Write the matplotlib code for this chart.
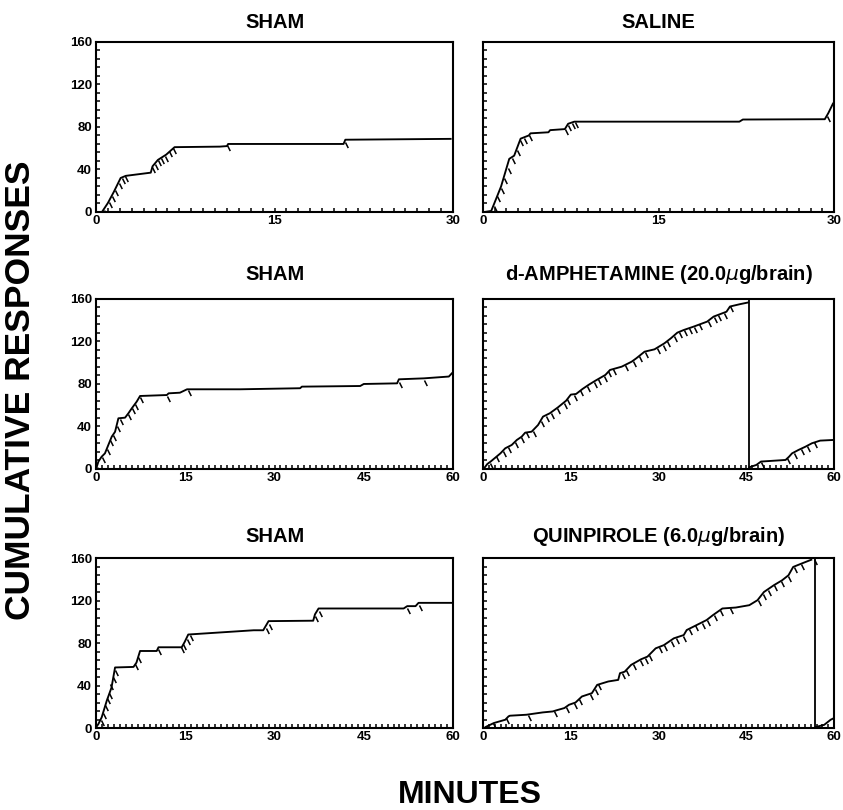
import numpy as np
import matplotlib
matplotlib.use("Agg")
import matplotlib.pyplot as plt
from matplotlib.path import Path
from matplotlib.ticker import MultipleLocator

plt.rcParams['font.family'] = ['Liberation Sans', 'DejaVu Sans']
plt.rcParams['mathtext.fontset'] = 'dejavusans'

# ---- cumulative records (minutes, cumulative responses) ----
# top row, 30 min sessions
sham1_t = [0.0, 0.5, 1.0, 1.5, 2.07, 2.5, 4.6, 4.75, 5.2, 5.9, 6.6, 10.4, 11.0, 11.1, 20.8, 20.95, 29.8]
sham1_v = [0, 0, 8.5, 19, 32, 34, 37, 43, 49, 54, 61, 61.5, 62, 64, 64, 68, 68.8]
sham1_pip_t = [0.65, 1.07, 1.35, 1.63, 1.91, 2.19, 2.47, 4.74, 4.94, 5.22, 5.5, 5.78, 6.15, 6.49, 11.0, 20.9]
sham1_pip_v = [2, 9, 15, 21, 27, 32, 34, 42, 45, 49, 51, 53, 57, 60, 63, 66]

saline_t = [0.0, 0.14, 0.7, 0.98, 1.54, 2.24, 2.66, 3.21, 3.91, 4.05, 5.59, 5.73, 6.99, 7.27, 7.8, 21.9, 22.2, 29.2, 29.5, 29.9]
saline_v = [0, 0, 1, 8.6, 24, 50, 53, 69, 72, 74, 75, 77, 78, 83, 85, 85, 87, 87.3, 93, 102]
saline_pip_t = [0.9, 1.2, 1.5, 1.8, 2.1, 2.5, 2.9, 3.2, 3.5, 3.9, 7.0, 7.3, 7.6, 7.9, 29.4]
saline_pip_v = [6, 15, 23, 32, 41, 51, 58, 68, 70, 72, 78, 82, 84, 85, 90]

# middle row, 60 min sessions
sham2_t = [0.0, 0.0, 0.1, 0.4, 0.95, 1.5, 2.07, 2.64, 3.2, 3.76, 4.88, 5.44, 6.0, 6.84, 7.4, 11.9, 12.2, 14.1, 15.3,
           24.2, 34.3, 34.6, 44.4, 45.0, 50.6, 50.9, 55.1, 59.3, 59.8]
sham2_v = [15, 0, 1.6, 7, 11.6, 14.7, 22.6, 30.4, 35, 47.7, 48.3, 52.4, 57, 63.4, 68.7, 69.6, 71.2, 71.8, 75,
           75, 76, 77.5, 78.1, 80, 80.6, 84.4, 85.3, 87, 90]
sham2_pip_t = [0.1, 0.95, 1.8, 2.36, 2.9, 3.5, 4.0, 5.44, 6.0, 6.56, 7.4, 11.9, 15.5, 50.9, 55.1]
sham2_pip_v = [2, 11, 19, 27, 32, 40, 47, 52, 57, 61, 68, 69, 74, 82, 84]

amph_t = [0.17, 0.73, 1.3, 2.97, 3.8, 4.9, 5.77, 6.6, 7.2, 8.3, 9.4, 10.25, 11.4, 12.8, 14.2, 15.0, 15.9, 17.0,
          18.1, 19.2, 20.9, 21.7, 23.7, 25.4, 26.2, 27.6, 29.3, 31.0, 32.1, 33.2, 34.3, 36.0, 38.3, 39.4,
          41.6, 42.2, 43.9, 45.3]
amph_v = [0.6, 4.7, 7, 14.7, 19.5, 22.6, 27.3, 30.4, 34.2, 35.1, 41.4, 49.3, 52.4, 58, 64.3, 70, 70.6, 75.3,
          79.4, 83.1, 88.5, 93.2, 96.3, 101, 104.2, 110.4, 112.6, 118.3, 123, 128.3, 130.8, 134, 138.7, 143.4,
          148, 152.9, 155.1, 156.7]
amph_reset = 45.4
amph2_t = [45.5, 46.7, 47.5, 51.7, 52.3, 52.8, 53.9, 55.1, 56.2, 57.6, 59.8]
amph2_v = [1.6, 3.8, 7, 8.5, 11.6, 14.7, 17.9, 21, 24.2, 26.7, 27.3]
amph_pip_t = [1.18, 2.3, 3.4, 4.3, 5.4, 6.5, 7.4, 8.5, 9.9, 10.7, 11.6, 12.7, 13.8, 14.4, 15.5, 16.6, 17.7,
              18.9, 19.7, 20.6, 21.4, 22.2, 24.2, 25.6, 26.7, 27.6, 29.8, 30.7, 31.5, 32.6, 33.5, 34.3,
              35.2, 36.0, 36.9, 38.5, 39.4, 40.2, 41.1, 42.2, 47.5, 52.0, 53.1, 54.3, 55.4, 56.5]
amph_pip_v = [6, 12, 17, 21, 25, 30, 34.5, 36, 45, 50, 53, 57.5, 62, 66, 70, 74, 78,
              82, 85, 87.5, 92, 94, 97.5, 102, 106, 110, 114, 117, 120, 125, 129, 131,
              132.5, 134, 136, 139.5, 143.4, 145, 147, 153, 7, 10, 15.5, 19, 22, 25]

# bottom row, 60 min sessions
sham3_t = [0.0, 0.4, 0.95, 1.8, 2.6, 3.2, 6.3, 6.8, 7.4, 10.2, 10.5, 14.4, 14.9, 15.5, 26.5, 28.1, 29.0,
           36.5, 36.8, 37.4, 51.7, 52.3, 53.7, 54.2, 59.8]
sham3_v = [0.6, 3.8, 10, 25.6, 38, 57, 57.5, 61.6, 72.5, 72.5, 76, 76, 81, 88, 92, 92, 100.6,
           101, 107, 112.5, 112.5, 114.7, 114.7, 117.8, 117.8]
sham3_pip_t = [0.9, 1.1, 1.5, 1.8, 2.1, 2.4, 2.8, 3.2, 6.6, 7.1, 10.5, 14.2, 14.7, 15.3, 15.8, 28.5, 29.0,
               36.8, 37.4, 52.3, 54.2]
sham3_pip_v = [8, 14, 22, 28, 33, 41, 48, 55, 60, 67, 74, 76, 79, 84, 88, 94, 98, 105, 110, 113, 116]

quin_t = [0.45, 1.85, 3.8, 4.36, 4.6, 7.4, 10.2, 11.9, 12.5, 13.9, 14.7, 15.8, 16.9, 18.6, 19.5, 21.4, 23.1,
          23.4, 24.2, 25.3, 27.0, 28.1, 29.5, 30.9, 32.6, 34.3, 34.8, 36.5, 38.2, 39.3, 40.9, 43.2, 45.5,
          46.9, 48.0, 49.7, 51.1, 52.2, 53.0, 54.4, 56.1]
quin_v = [1, 4.7, 7.8, 11, 11.6, 12.5, 14.7, 15.6, 16.6, 18.8, 21.9, 24, 29.7, 32.8, 40.6, 43.8, 45.3,
          51.6, 53, 59.4, 64.7, 67.2, 75, 78, 84.4, 87.5, 92.2, 96.9, 101.6, 106.3, 112.5, 113.4, 115.6,
          120.3, 128, 134.4, 139, 143.8, 151.6, 154.7, 158.4]
quin_reset = 56.8
quin2_t = [56.9, 58.3, 59.4, 60.0]
quin2_v = [1, 3, 7.8, 9.4]
quin_pip_t = [1.75, 4.0, 7.6, 12.1, 14.1, 15.5, 16.4, 18.3, 19.2, 19.7, 23.7, 24.5, 25.6, 26.8, 27.6, 28.4,
              30.1, 31.0, 32.1, 32.9, 34.1, 35.2, 36.3, 37.4, 38.3, 39.4, 40.5, 42.2, 47.0, 47.8, 48.7,
              49.8, 50.9, 52.1, 53.2, 54.3, 56.5]
quin_pip_v = [4.5, 9, 12.5, 16, 19.5, 23.5, 27, 32, 37, 41, 52, 54.5, 60, 64, 66, 69,
              76, 78.5, 82, 85, 87, 93, 96.5, 99, 102, 106.5, 111, 113, 120.5, 126, 130,
              134.5, 138, 143, 152, 154.5, 159]

titles = ["SHAM", "SALINE", "SHAM", "d-AMPHETAMINE (20.0$\\mu$g/brain)", "SHAM", "QUINPIROLE (6.0$\\mu$g/brain)"]
session_len = [30, 30, 60, 60, 60, 60]
x_labels_30 = [0, 15, 30]
x_labels_60 = [0, 15, 30, 45, 60]
y_labels = [0, 40, 80, 120, 160]

panels = [
    dict(segs=[(sham1_t, sham1_v)], pips=(sham1_pip_t, sham1_pip_v), reset=None),
    dict(segs=[(saline_t, saline_v)], pips=(saline_pip_t, saline_pip_v), reset=None),
    dict(segs=[(sham2_t, sham2_v)], pips=(sham2_pip_t, sham2_pip_v), reset=None),
    dict(segs=[(amph_t, amph_v), (amph2_t, amph2_v)], pips=(amph_pip_t, amph_pip_v), reset=amph_reset),
    dict(segs=[(sham3_t, sham3_v)], pips=(sham3_pip_t, sham3_pip_v), reset=None),
    dict(segs=[(quin_t, quin_v), (quin2_t, quin2_v)], pips=(quin_pip_t, quin_pip_v), reset=quin_reset),
]

# pen "pip" marker: short stroke hanging down-right from the record
pip = Path([(0, 0), (0.5, -1)], [Path.MOVETO, Path.LINETO])

fig = plt.figure(figsize=(8.43, 8.10), dpi=100)
lefts = [0.1139, 0.573]
widths = [0.4235, 0.4165]
bottoms = [0.7383, 0.421, 0.1012]
title_pad = [10, 14, 11.5]

for i, p in enumerate(panels):
    row, col = divmod(i, 2)
    ax = fig.add_axes([lefts[col], bottoms[row], widths[col], 0.2099])
    for t, v in p['segs']:
        ax.plot(t, v, color='k', lw=1.35, solid_joinstyle='round')
    ax.plot(p['pips'][0], p['pips'][1], ls='none', marker=pip, ms=8,
            mec='k', mew=1.1)
    if p['reset'] is not None:
        ax.axvline(p['reset'], color='k', lw=1.3)

    ax.set_xlim(0, session_len[i])
    ax.set_ylim(0, 160)
    ax.set_xticks(x_labels_30 if session_len[i] == 30 else x_labels_60)
    ax.xaxis.set_minor_locator(MultipleLocator(1))
    ax.set_yticks(y_labels)
    ax.yaxis.set_minor_locator(MultipleLocator(8))
    ax.tick_params(which='both', direction='in', length=3, width=1.1,
                   top=False, right=False)
    ax.tick_params(axis='x', pad=2, labelsize=9.5)
    ax.tick_params(axis='y', pad=3, labelsize=9.5)
    for lab in ax.get_xticklabels() + ax.get_yticklabels():
        lab.set_fontweight('bold')
    if col == 1:
        ax.set_yticklabels([])
    for s in ax.spines.values():
        s.set_linewidth(1.5)
    ax.set_title(titles[i], fontsize=14.5, fontweight='bold', pad=title_pad[row])

fig.text(0.024, 0.518, "CUMULATIVE RESPONSES", rotation=90, ha='center', va='center',
         fontsize=25.5, fontweight='bold')
fig.text(0.557, 0.018, "MINUTES", ha='center', va='center', fontsize=23, fontweight='bold')

fig.savefig("out.png", dpi=100)
